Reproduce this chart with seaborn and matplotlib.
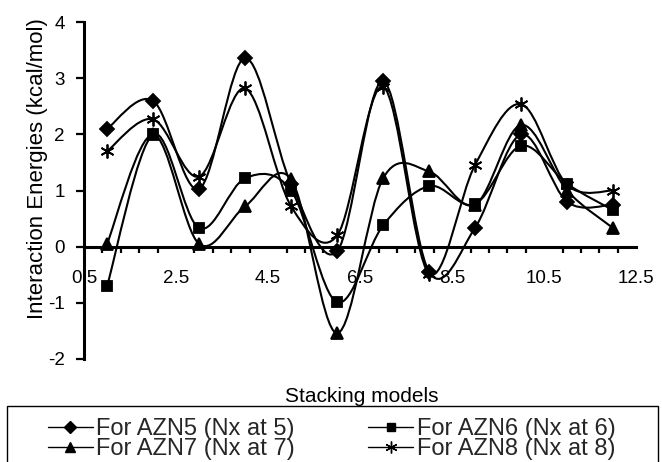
import numpy as np
import pandas as pd
import matplotlib
matplotlib.use("Agg")
import matplotlib.pyplot as plt
import seaborn as sns
from matplotlib.path import Path
from matplotlib.patches import PathPatch, Rectangle
from matplotlib.lines import Line2D

models = [1, 2, 3, 4, 5, 6, 7, 8, 9, 10, 11, 12]
azn5 = [2.10, 2.60, 1.03, 3.36, 1.12, -0.08, 2.95, -0.45, 0.34, 2.00, 0.80, 0.75]
azn6 = [-0.70, 2.00, 0.33, 1.22, 1.00, -0.99, 0.38, 1.08, 0.76, 1.80, 1.12, 0.65]
azn7 = [0.05, 2.00, 0.05, 0.72, 1.20, -1.54, 1.22, 1.34, 0.75, 2.17, 1.00, 0.33]
azn8 = [1.70, 2.27, 1.25, 2.82, 0.72, 0.20, 2.85, -0.48, 1.46, 2.54, 1.10, 1.00]
labels = ["For AZN5 (Nx at 5)", "For AZN6 (Nx at 6)",
          "For AZN7 (Nx at 7)", "For AZN8 (Nx at 8)"]
xticks = [0.5, 2.5, 4.5, 6.5, 8.5, 10.5, 12.5]
yticks = [-2, -1, 0, 1, 2, 3, 4]

sns.set_theme(style="white")
plt.rcParams['font.family'] = ['Liberation Sans', 'DejaVu Sans']

series = [azn5, azn6, azn7, azn8]
markers = ['D', 's', '^', (6, 2, 0)]
msizes = [7.5, 7, 8.5, 10]

fig = plt.figure(figsize=(6.62, 4.62), dpi=100)
ax = fig.add_axes([0.127, 0.223, 0.834, 0.729])


def smooth_path(xs, ys):
    pts = np.column_stack([xs, ys]).astype(float)
    n = len(pts)
    verts = [pts[0]]
    codes = [Path.MOVETO]
    for i in range(n - 1):
        p0 = pts[i - 1] if i > 0 else pts[i]
        p1 = pts[i]
        p2 = pts[i + 1]
        p3 = pts[i + 2] if i + 2 < n else pts[i + 1]
        c1 = p1 + (p2 - p0) / 6.0
        c2 = p2 - (p3 - p1) / 6.0
        verts += [c1, c2, p2]
        codes += [Path.CURVE4] * 3
    return Path(verts, codes)


handles = []
for vals, mk, ms, lab in zip(series, markers, msizes, labels):
    df = pd.DataFrame({"model": models, "energy": vals})
    patch = PathPatch(smooth_path(df["model"], df["energy"]), facecolor='none',
                      edgecolor='black', lw=1.5, zorder=2)
    ax.add_patch(patch)
    sns.lineplot(data=df, x="model", y="energy", ax=ax, linestyle='',
                 marker=mk, markersize=ms, color='black',
                 markeredgecolor='black', markeredgewidth=1.3, zorder=3)
    handles.append(Line2D([], [], color='black', lw=1.0, marker=mk,
                          markersize=ms - 1.5, markeredgewidth=1.0, label=lab))

ax.set_xlim(0.5, 12.5)
ax.set_ylim(-2, 4)
ax.set_xticks(xticks)
ax.set_xticklabels([str(t) for t in xticks])
ax.set_xticks(np.arange(0.5, 12.51, 0.4), minor=True)
ax.set_yticks(yticks)
ax.set_yticklabels([str(t) for t in yticks])

for s in ['top', 'right']:
    ax.spines[s].set_visible(False)
ax.spines['bottom'].set_position(('data', 0))
for s in ['left', 'bottom']:
    ax.spines[s].set_color('black')
    ax.spines[s].set_linewidth(2.2)

ax.tick_params(axis='x', which='major', direction='out', length=5, width=1.6,
               pad=12, labelsize=13.5, colors='black')
ax.tick_params(axis='x', which='minor', direction='out', length=4, width=1.6,
               colors='black', bottom=True)
ax.tick_params(axis='y', which='major', direction='out', length=6, width=1.6,
               pad=8, labelsize=13.5, colors='black', left=True)
ax.grid(False)

ax.set_xlabel("")
ax.set_ylabel("")
fig.text(0.547, 0.141, "Stacking models", ha='center', va='center',
         fontsize=15, color='black')
fig.text(0.057, 0.636, "Interaction Energies (kcal/mol)", ha='center',
         va='center', rotation=90, fontsize=16, color='black')

# legend frame (extends below the figure edge, as in the reference)
fig.add_artist(Rectangle((7 / 662, -0.05), (658 - 7) / 662, 0.05 + 1 - 406 / 462,
                         transform=fig.transFigure, facecolor='none',
                         edgecolor='black', lw=1.0, zorder=5))

order = [handles[0], handles[2], handles[1], handles[3]]
leg = fig.legend(handles=order, labels=[h.get_label() for h in order],
                 ncol=2, loc='upper left', bbox_to_anchor=(48 / 662, 1 - 418 / 462),
                 bbox_transform=fig.transFigure, frameon=False,
                 fontsize=17, handlelength=1.9,
                 columnspacing=3.1, labelspacing=-0.08, borderpad=0,
                 handletextpad=0.15, borderaxespad=0)

fig.savefig("out.png", dpi=100)
